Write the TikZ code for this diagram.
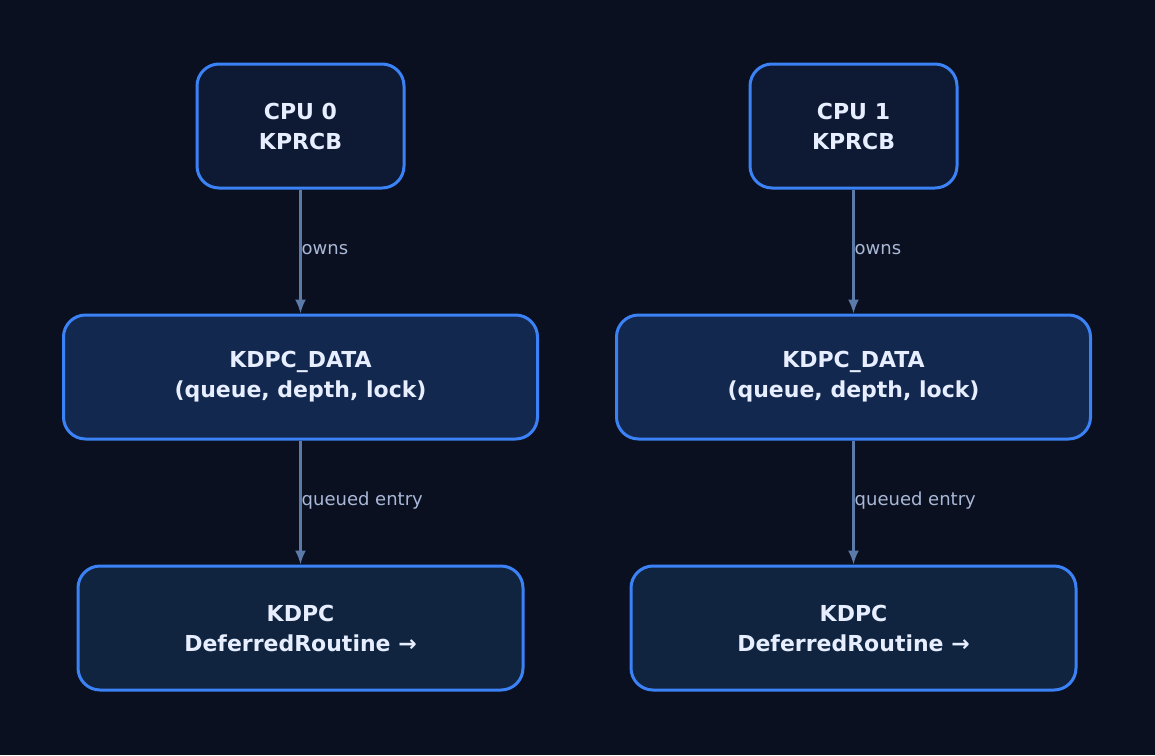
\documentclass[tikz,border=0pt]{standalone}
\usepackage{fontspec}
\setmainfont{DejaVu Sans}
\usetikzlibrary{arrows.meta}
\definecolor{bg}{HTML}{0A1020}
\definecolor{cpuf}{HTML}{0E1A33}
\definecolor{dataf}{HTML}{13284F}
\definecolor{kdpcf}{HTML}{102440}
\definecolor{bord}{HTML}{3B82F6}
\definecolor{txt}{HTML}{E6EEFF}
\definecolor{arr}{HTML}{5B7AA8}
\definecolor{lbl}{HTML}{A9B8D6}
\begin{document}
\begin{tikzpicture}[x=1pt,y=-1pt,
  box/.style={draw=bord,line width=3pt,rounded corners=22pt,text=txt,
    font=\fontsize{22}{30}\selectfont\bfseries,align=center,minimum height=124pt,inner sep=0pt},
  conn/.style={draw=arr,line width=2.2pt,-{Latex[length=14pt,width=11pt]}},
  lab/.style={text=lbl,font=\fontsize{18}{22}\selectfont,anchor=west,inner sep=0pt}]
\fill[bg] (0,0) rectangle (1155,755);
\useasboundingbox (0,0) rectangle (1155,755);
\foreach \c/\n/\t in {300.5/a/0,853.5/b/1}{
  \node[box,fill=cpuf,minimum width=207pt] (cpu\n) at (\c,126) {CPU \t\\KPRCB};
  \node[box,fill=dataf,minimum width=474pt] (data\n) at (\c,377) {KDPC\_DATA\\(queue, depth, lock)};
  \node[box,fill=kdpcf,minimum width=445pt] (kdpc\n) at (\c,628) {KDPC\\DeferredRoutine →};
  \draw[conn] (cpu\n) -- (data\n);
  \draw[conn] (data\n) -- (kdpc\n);
  \node[lab] (o\n) at (\c+1,250) {owns};
  \node[lab] (q\n) at (\c+1,501) {queued entry};
}
\end{tikzpicture}
\end{document}
